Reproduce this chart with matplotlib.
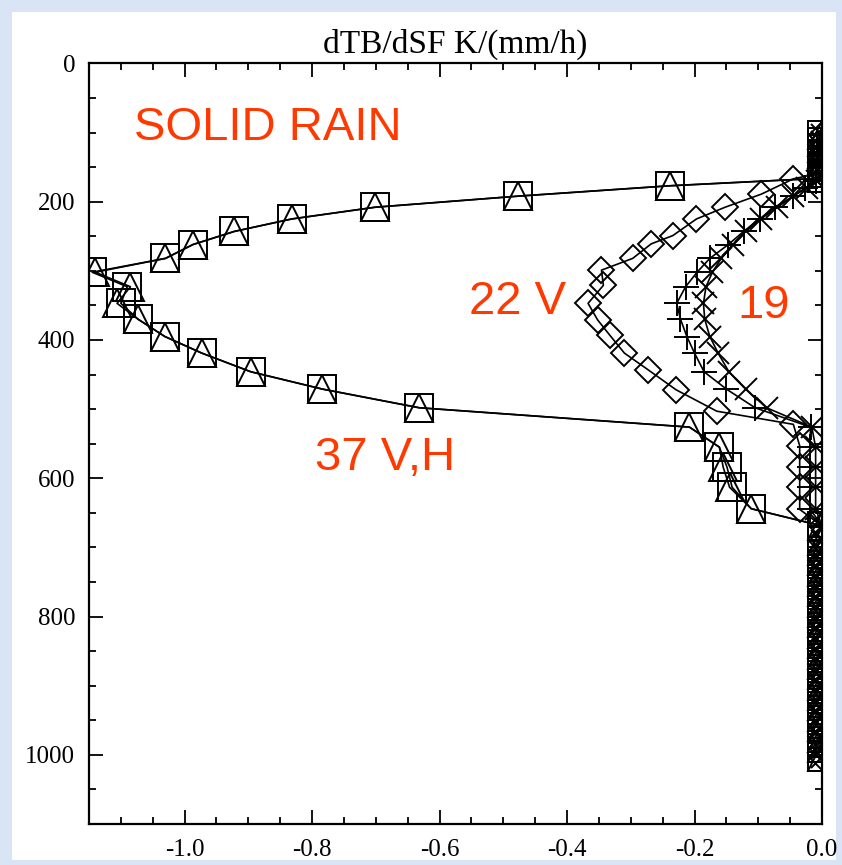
import matplotlib.pyplot as plt
from matplotlib.patches import Rectangle
from matplotlib.ticker import MultipleLocator

# levels where every channel is zero (top block and bottom column)
top_lev = [104, 113, 122, 131, 140, 149, 158]
tail_lev = [690, 705, 720, 735, 750, 765, 780, 795, 810, 825, 840, 855,
            870, 885, 900, 915, 930, 945, 960, 975, 990, 1003]

# 37 GHz V (squares) and H (triangles)
lev37 = [166, 177, 192, 208, 225, 243, 262, 282, 302, 323, 347, 370, 395,
         419, 446, 471, 498, 526, 555, 584, 613, 644, 669]
tb37v = [0.0, -0.239, -0.477, -0.701, -0.832, -0.922, -0.987, -1.030, -1.145,
         -1.090, -1.100, -1.073, -1.031, -0.973, -0.896, -0.784, -0.632,
         -0.208, -0.161, -0.149, -0.141, -0.111, 0.0]
tb37h = [0.0, -0.239, -0.477, -0.701, -0.832, -0.922, -0.987, -1.030, -1.140,
         -1.085, -1.106, -1.073, -1.031, -0.973, -0.896, -0.784, -0.632,
         -0.208, -0.161, -0.155, -0.145, -0.111, 0.0]

# 22 GHz V (diamonds)
lev22 = [167, 189, 208, 225, 249, 261, 282, 299, 321, 347, 371, 393, 419,
         443, 472, 503, 522, 553, 584, 613, 645, 669]
tb22v = [-0.045, -0.095, -0.152, -0.197, -0.234, -0.268, -0.297, -0.346,
         -0.343, -0.367, -0.352, -0.333, -0.310, -0.273, -0.229, -0.165,
         -0.045, -0.035, -0.035, -0.035, -0.035, 0.0]

# 19 GHz V (plus) and H (cross)
lev19 = [170, 180, 192, 208, 225, 243, 262, 282, 302, 323, 347, 370, 395,
         419, 446, 471, 498, 526, 555, 584, 613, 644, 669]
tb19v = [-0.010, -0.026, -0.045, -0.074, -0.098, -0.123, -0.147, -0.176,
         -0.196, -0.214, -0.228, -0.222, -0.212, -0.200, -0.185, -0.150,
         -0.105, -0.018, -0.019, -0.019, -0.019, -0.019, 0.0]
tb19h = [-0.008, -0.024, -0.045, -0.070, -0.096, -0.120, -0.140, -0.158,
         -0.172, -0.182, -0.186, -0.184, -0.176, -0.163, -0.146, -0.120,
         -0.087, -0.016, -0.010, -0.010, -0.010, -0.010, 0.0]

x_ticks = [-1.0, -0.8, -0.6, -0.4, -0.2, 0.0]
y_ticks = [0, 200, 400, 600, 800, 1000]

red = '#ff3a00'
serif = 'Liberation Serif'
sans = 'Liberation Sans'


def full(lev, vals):
    y = top_lev + lev + tail_lev
    x = [0.0] * len(top_lev) + vals + [0.0] * len(tail_lev)
    return x, y


fig = plt.figure(figsize=(8.42, 8.65), dpi=100)
fig.patch.set_facecolor('#d9e4f4')
fig.add_artist(Rectangle((12 / 842, 1 - 860 / 865), (836 - 12) / 842, (860 - 12) / 865,
                         transform=fig.transFigure, facecolor='white',
                         edgecolor='none', zorder=0))

ax = fig.add_axes([89 / 842, 1 - 824 / 865, (822 - 89) / 842, (824 - 63.4) / 865])
ax.set_facecolor('white')

style = dict(color='black', lw=1.2, mfc='none', mec='black', mew=1.4)

x, y = full(lev37, tb37v)
ax.plot(x, y, marker='s', ms=20, **style)
x, y = full(lev37, tb37h)
ax.plot(x, y, marker='^', ms=20, **style)
x, y = full(lev22, tb22v)
ax.plot(x, y, marker='D', ms=13.5, **style)
x, y = full(lev19, tb19v)
ax.plot(x, y, marker='+', ms=19, **style)
x, y = full(lev19, tb19h)
ax.plot(x, y, marker='x', ms=16, **style)

ax.set_xlim(-1.15, 0.0)
ax.set_ylim(1100, 0)

ax.set_xticks(x_ticks)
ax.set_xticklabels([f'{v:.1f}' for v in x_ticks], family=serif, fontsize=18)
ax.set_yticks(y_ticks)
ax.set_yticklabels([str(v) for v in y_ticks], family=serif, fontsize=18)
ax.xaxis.set_minor_locator(MultipleLocator(0.05))
ax.yaxis.set_minor_locator(MultipleLocator(50))
ax.tick_params(which='both', direction='in', top=True, right=True, width=1.3)
ax.tick_params(which='major', length=10)
ax.tick_params(which='minor', length=5)
ax.tick_params(axis='x', which='major', pad=11)
ax.tick_params(axis='y', which='major', pad=10)
for sp in ax.spines.values():
    sp.set_linewidth(1.6)

ax.set_title('dTB/dSF K/(mm/h)', family=serif, fontsize=24, pad=8)

ax.text(-0.869, 94, 'SOLID RAIN', color=red, family=sans, fontsize=34,
        ha='center', va='center')
ax.text(-0.477, 345, '22 V', color=red, family=sans, fontsize=34,
        ha='center', va='center')
ax.text(-0.091, 351, '19', color=red, family=sans, fontsize=34,
        ha='center', va='center')
ax.text(-0.685, 570, '37 V,H', color=red, family=sans, fontsize=34,
        ha='center', va='center')

fig.savefig('out.png', dpi=100, facecolor=fig.get_facecolor())
